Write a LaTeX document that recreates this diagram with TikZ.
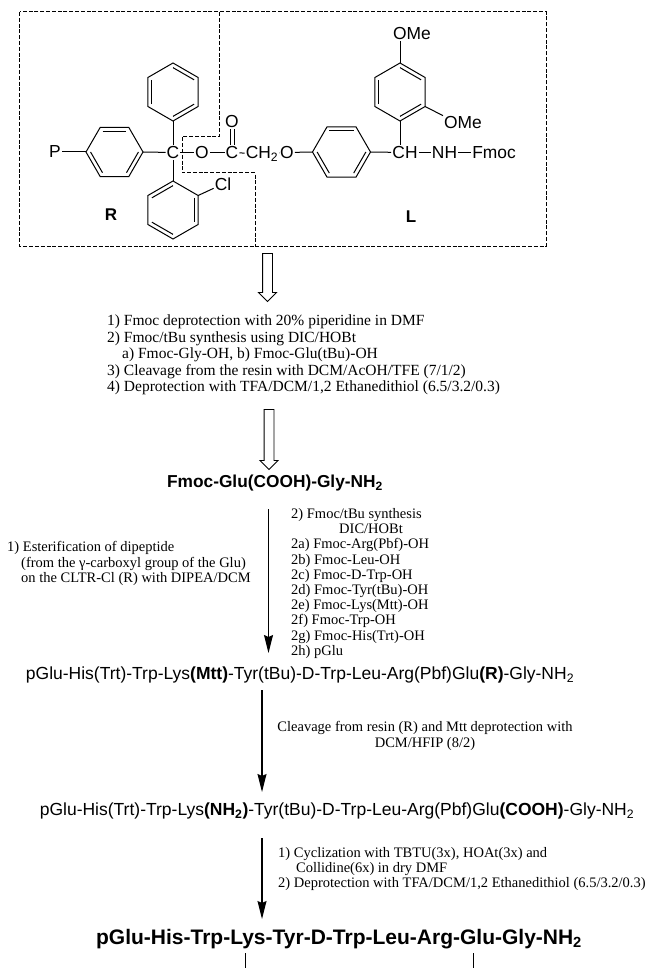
\documentclass[tikz,border=0pt]{standalone}
\usepackage{fontspec}
\setmainfont{Liberation Serif}
\setsansfont{Liberation Sans}
\usetikzlibrary{positioning, shapes.arrows, arrows.meta, calc}
\newcommand{\benzring}[5]{%
  \foreach \i in {1,...,6} \coordinate (#1\i) at ($(#2)+(60*\i+#3:#4)$);
  \draw[bond] (#11) -- (#12) -- (#13) -- (#14) -- (#15) -- (#16) -- cycle;
  \foreach \i in {#5} {
    \pgfmathtruncatemacro{\j}{mod(\i,6)+1}
    \draw[bond] ($(#2)!0.84!(#1\i)$) -- ($(#2)!0.84!(#1\j)$);
  }
}
\tikzset{
  bond/.style={line width=1pt},
  atom/.style={font=\sffamily\fontsize{17.4}{17.4}\selectfont, inner sep=1pt},
  tag/.style={font=\sffamily\bfseries\fontsize{17}{17}\selectfont, inner sep=0pt},
  zone/.style={line width=1pt, dash pattern=on 4pt off 1.8pt},
  hollow/.style={single arrow, draw, line width=0.9pt, shape border rotate=270, inner sep=4.5pt, minimum width=17pt, single arrow head extend=4pt},
  cond/.style={font=\fontsize{14.5}{15.2}\selectfont, align=left, anchor=west, inner sep=0pt},
  pep/.style={font=\sffamily\fontsize{17.5}{18}\selectfont, inner sep=0pt},
  pepbold/.style={font=\sffamily\bfseries\fontsize{21}{22}\selectfont, inner sep=0pt},
  rxn/.style={-{Stealth[length=18pt,width=9pt,inset=2pt]}, line width=1.2pt}
}
\begin{document}
\begin{tikzpicture}[x=1pt, y=-1pt]
  \useasboundingbox (0,0) rectangle (650,968);
  \draw[zone] (19.5,12) rectangle (546,246);
  \draw[zone] (219,12) -- (219,137) -- (182,137) -- (182,173) -- (255,173) -- (255,246);

  \node[atom] (P) at (55,152) {P};
  \node[atom] (Cc) at (173,152.5) {C};
  \node[atom] (Oa) at (202,152.5) {O};
  \node[atom] (Cb) at (232,152.5) {C};
  \node[atom] (Ob) at (232,122) {O};
  \node[atom] (ch2) at (262,154) {CH\textsubscript{2}};
  \node[atom] (Oc) at (287,152.5) {O};
  \node[atom] (CH) at (405,152.5) {CH};
  \node[atom] (NH) at (444.5,152.5) {NH};
  \node[atom] (Fmoc) at (494,152.5) {Fmoc};
  \node[atom] (Cl) at (223,184) {Cl};
  \node[atom] (omeA) at (412,34) {OMe};
  \node[atom] (omeB) at (463,123) {OMe};
  \node[tag] (R) at (111,215) {R};
  \node[tag] (L) at (411,217) {L};

  \benzring{pr}{114.5,152}{0}{28.5}{4,2,6}
  \benzring{ph}{173,92}{-30}{29}{5,3,1}
  \benzring{cl}{173,210}{-30}{29}{4,6,2}
  \benzring{ar}{341.5,152}{0}{29}{4,2,6}
  \benzring{up}{400,92}{-30}{29}{5,3,1}

  \draw[bond] (P) -- (pr3);
  \draw[bond] (pr6) -- (Cc);
  \draw[bond] (Cc) -- (ph2);
  \draw[bond] (Cc) -- (cl5);
  \draw[bond] (cl6) -- (Cl);
  \draw[bond] (Cc) -- (Oa);
  \draw[bond] (Oa) -- (Cb);
  \draw[bond] (Cb) -- (ch2);
  \draw[bond] (ch2) -- (Oc);
  \draw[bond] (Oc) -- (ar3);
  \draw[bond] ([xshift=-2pt]Cb.north) -- ([xshift=-2pt]Ob.south);
  \draw[bond] ([xshift=2pt]Cb.north) -- ([xshift=2pt]Ob.south);
  \draw[bond] (ar6) -- (CH);
  \draw[bond] (CH) -- (NH);
  \draw[bond] (NH) -- (Fmoc);
  \draw[bond] (up2) -- (up2 |- CH.north);
  \draw[bond] (up5) -- (up5 |- omeA.south);
  \draw[bond] (up1) -- (omeB.north west);

  \node[hollow, minimum height=48pt] (hollowA) at (267.5,275) {};
  \node[cond, font=\fontsize{15.5}{16.6}\selectfont] (stepsA) at (107,355) {1) Fmoc deprotection with 20\% piperidine in DMF\\
    2) Fmoc/tBu synthesis using DIC/HOBt\\
    \hspace*{15pt}a) Fmoc-Gly-OH, b) Fmoc-Glu(tBu)-OH\\
    3) Cleavage from the resin with DCM/AcOH/TFE (7/1/2)\\
    4) Deprotection with TFA/DCM/1,2 Ethanedithiol (6.5/3.2/0.3)};
  \node[hollow, minimum height=60pt] (hollowB) at (269,437) {};

  \node[pepbold, font=\sffamily\bfseries\fontsize{17.3}{18}\selectfont] (glu) at (275,483) {Fmoc-Glu(COOH)-Gly-NH\textsubscript{2}};

  \coordinate (arrA) at (268.5,509);
  \coordinate (arrAe) at (268.5,653);
  \draw[rxn] (arrA) -- (arrAe);
  \node[cond] (stepsB) at (7,563.5) {1) Esterification of dipeptide\\
    \hspace*{14pt}(from the γ-carboxyl group of the Glu)\\
    \hspace*{14pt}on the CLTR-Cl (R) with DIPEA/DCM};
  \node[cond] (stepsC) at (291,583.5) {2) Fmoc/tBu synthesis\\
    \hspace*{48pt}DIC/HOBt\\
    2a) Fmoc-Arg(Pbf)-OH\\
    2b) Fmoc-Leu-OH\\
    2c) Fmoc-D-Trp-OH\\
    2d) Fmoc-Tyr(tBu)-OH\\
    2e) Fmoc-Lys(Mtt)-OH\\
    2f) Fmoc-Trp-OH\\
    2g) Fmoc-His(Trt)-OH\\
    2h) pGlu};

  \node[pep] (pepA) at (300,675) {pGlu-His(Trt)-Trp-Lys\textbf{(Mtt)}-Tyr(tBu)-D-Trp-Leu-Arg(Pbf)Glu\textbf{(R)}-Gly-NH\textsubscript{2}};
  \coordinate (arrB) at (262,690);
  \coordinate (arrBe) at (262,792);
  \draw[rxn] (arrB) -- (arrBe);
  \node[cond, align=center, anchor=center] (stepsD) at (425,736) {Cleavage from resin (R) and Mtt deprotection with\\DCM/HFIP (8/2)};

  \node[pep] (pepB) at (337,811) {pGlu-His(Trt)-Trp-Lys\textbf{(NH\textsubscript{2})}-Tyr(tBu)-D-Trp-Leu-Arg(Pbf)Glu\textbf{(COOH)}-Gly-NH\textsubscript{2}};
  \coordinate (arrC) at (262,838);
  \coordinate (arrCe) at (262,919);
  \draw[rxn] (arrC) -- (arrCe);
  \node[cond] (stepsE) at (278,869) {1) Cyclization with TBTU(3x), HOAt(3x) and\\
    \hspace*{18pt}Collidine(6x) in dry DMF\\
    2) Deprotection with TFA/DCM/1,2 Ethanedithiol (6.5/3.2/0.3)};

  \node[pepbold] (pepC) at (339,939) {pGlu-His-Trp-Lys-Tyr-D-Trp-Leu-Arg-Glu-Gly-NH\textsubscript{2}};
  \coordinate (barA) at (245,953);
  \coordinate (barAe) at (245,968);
  \coordinate (barB) at (473,953);
  \coordinate (barBe) at (473,968);
  \draw[bond] (barA) -- (barAe);
  \draw[bond] (barB) -- (barBe);
\end{tikzpicture}
\end{document}
